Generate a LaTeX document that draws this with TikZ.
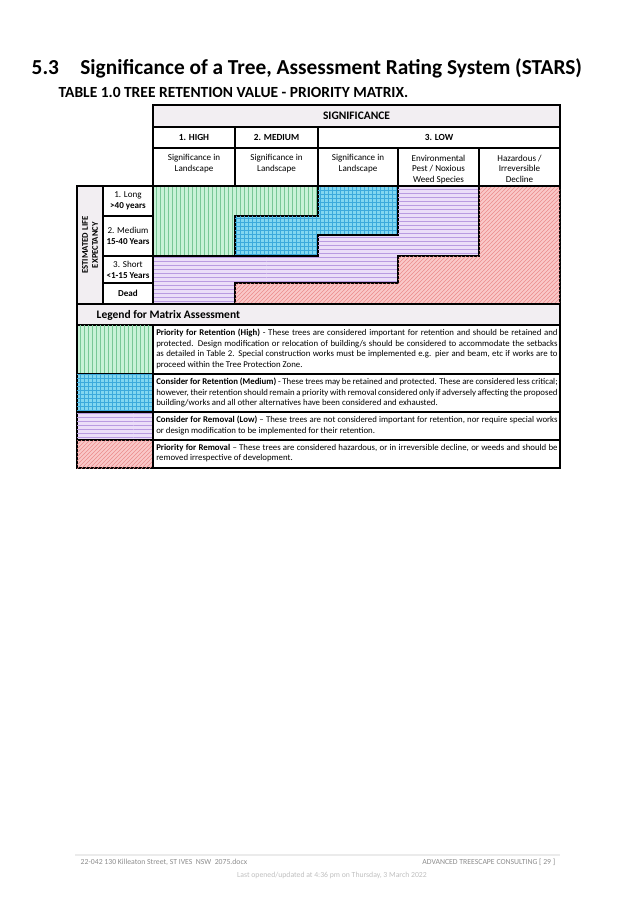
\documentclass[tikz,border=0pt]{standalone}
\usepackage{fontspec}
\setmainfont{Carlito}
\usetikzlibrary{patterns}
\definecolor{greenl}{RGB}{200,242,215}
\definecolor{greenp}{RGB}{120,200,150}
\definecolor{bluel}{RGB}{130,215,240}
\definecolor{bluep}{RGB}{60,170,220}
\definecolor{purl}{RGB}{235,222,248}
\definecolor{purp}{RGB}{185,155,225}
\definecolor{pinkl}{RGB}{250,200,200}
\definecolor{pinkp}{RGB}{235,140,140}
\definecolor{headgray}{RGB}{242,238,242}
\tikzset{
  hdr/.style={font=\fontsize{7}{8}\selectfont\bfseries},
  cell/.style={font=\fontsize{6.8}{8.2}\selectfont, align=center},
  legtxt/.style={font=\fontsize{6.6}{7.9}\selectfont, text width=301pt, align=justify, inner sep=0pt, anchor=north west},
  highfill/.style={fill=greenl, postaction={pattern=vertical lines, pattern color=greenp}},
  medfill/.style={fill=bluel, postaction={pattern=grid, pattern color=bluep}},
  lowfill/.style={fill=purl, postaction={pattern=horizontal lines, pattern color=purp}},
  remfill/.style={fill=pinkl, postaction={pattern=north east lines, pattern color=pinkp}},
}
\begin{document}
\begin{tikzpicture}[x=0.75pt,y=-0.75pt]
\useasboundingbox (0,0) rectangle (637,902);
%%% Title
\node[anchor=west, font=\fontsize{16}{18}\selectfont\bfseries] (title) at (27,68) {5.3\quad Significance of a Tree, Assessment Rating System (STARS)};
\node[anchor=west, font=\fontsize{11.6}{13}\selectfont\bfseries] (subtitle) at (54,92) {TABLE 1.0 TREE RETENTION VALUE - PRIORITY MATRIX.};
%%% Matrix colour regions
\def\ca{153}\def\cb{235}\def\cc{318}\def\cd{398}\def\ce{479}\def\cf{560}
\def\ra{186}\def\rb{216}\def\rm{235}\def\rc{256}\def\rd{283}\def\re{304}
\draw[thick, highfill] (\ca,\ra) -- (\cc,\ra) -- (\cc,\rb) -- (\cb,\rb) -- (\cb,\rc) -- (\ca,\rc) -- cycle;
\draw[thick, medfill] (\cc,\ra) -- (\cd,\ra) -- (\cd,\rm) -- (\cc,\rm) -- (\cc,\rc) -- (\cb,\rc) -- (\cb,\rb) -- (\cc,\rb) -- cycle;
\draw[thick, lowfill] (\cd,\ra) -- (\ce,\ra) -- (\ce,\rc) -- (\cd,\rc) -- (\cd,\rd) -- (\cb,\rd) -- (\cb,\re) -- (\ca,\re) -- (\ca,\rc) -- (\cc,\rc) -- (\cc,\rm) -- (\cd,\rm) -- cycle;
\draw[thick, remfill] (\ce,\ra) -- (\cf,\ra) -- (\cf,\re) -- (\cb,\re) -- (\cb,\rd) -- (\cd,\rd) -- (\cd,\rc) -- (\ce,\rc) -- cycle;
%%% Header
\draw[thick, fill=headgray] (\ca,105) rectangle (\cf,127);
\node[hdr, font=\fontsize{8.6}{9}\selectfont\bfseries] (sig) at (356.5,116) {SIGNIFICANCE};
\draw[thick] (\ca,127) rectangle (\cb,148) (\cb,127) rectangle (\cc,148) (\cc,127) rectangle (\cf,148);
\node[hdr] (high) at (194,137.5) {1. HIGH};
\node[hdr] (medium) at (276.5,137.5) {2. MEDIUM};
\node[hdr] (low) at (439,137.5) {3. LOW};
\foreach \xl/\xr in {153/235,235/318,318/398,398/479,479/560}
  \draw[thick] (\xl,148) rectangle (\xr,\ra);
\node[cell, anchor=north] (d1) at (194,150) {Significance in\\Landscape};
\node[cell, anchor=north] (d2) at (276.5,150) {Significance in\\Landscape};
\node[cell, anchor=north] (d3) at (358,150) {Significance in\\Landscape};
\node[cell, anchor=north] (d4) at (438.5,150) {Environmental\\Pest / Noxious\\Weed Species};
\node[cell, anchor=north] (d5) at (519.5,150) {Hazardous /\\Irreversible\\Decline};
%%% Life expectancy
\draw[thick, fill=headgray] (77,\ra) rectangle (103,\re);
\node[hdr, rotate=90, align=center, font=\fontsize{6.5}{7.5}\selectfont\bfseries] (ele) at (90,245) {ESTIMATED LIFE\\EXPECTANCY};
\draw[thick] (103,\ra) rectangle (\ca,\rb) (103,\rb) rectangle (\ca,\rc) (103,\rc) rectangle (\ca,\rd) (103,\rd) rectangle (\ca,\re);
\node[cell] (long) at (128,201) {1. Long\\\textbf{>40 years}};
\node[cell] (med) at (128,236) {2. Medium\\\textbf{15-40 Years}};
\node[cell] (short) at (128,269.5) {3. Short\\\textbf{<1-15 Years}};
\node[cell] (dead) at (128,293.5) {\textbf{Dead}};
%%% Legend
\draw[thick, fill=headgray] (77,\re) rectangle (\cf,325);
\node[anchor=west, font=\fontsize{8.6}{9}\selectfont\bfseries] (legend) at (92,315) {Legend for Matrix Assessment};
\draw[thick, highfill] (77,325) rectangle (\ca,374);
\draw[thick, medfill] (77,374) rectangle (\ca,412);
\draw[thick, lowfill] (77,412) rectangle (\ca,440);
\draw[thick, remfill] (77,440) rectangle (\ca,468);
\draw[thick] (\ca,325) rectangle (\cf,374) (\ca,374) rectangle (\cf,412) (\ca,412) rectangle (\cf,440) (\ca,440) rectangle (\cf,468);
\node[legtxt] (lg1) at (156,329) {\hyphenpenalty=10000\textbf{Priority for Retention (High)} - These trees are considered important for retention and should be retained and protected. Design modification or relocation of building/s should be considered to accommodate the setbacks as detailed in Table 2. Special construction works must be implemented e.g. pier and beam, etc if works are to proceed within the Tree Protection Zone.};
\node[legtxt] (lg2) at (156,378) {\hyphenpenalty=10000\textbf{Consider for Retention (Medium)} - These trees may be retained and protected. These are considered less critical; however, their retention should remain a priority with removal considered only if adversely affecting the proposed building/works and all other alternatives have been considered and exhausted.};
\node[legtxt] (lg3) at (156,416) {\hyphenpenalty=10000\textbf{Consider for Removal (Low)} -- These trees are not considered important for retention, nor require special works or design modification to be implemented for their retention.};
\node[legtxt] (lg4) at (156,444) {\hyphenpenalty=10000\textbf{Priority for Removal} -- These trees are considered hazardous, or in irreversible decline, or weeds and should be removed irrespective of development.};
%%% Footer
\draw[black!8, thick] (75,855) -- (560,855);
\node[anchor=west, text=black!45, font=\fontsize{5.8}{6}\selectfont] (foot1) at (76,862.5) {22-042 130 Killeaton Street, ST IVES\ \ NSW\ \ 2075.docx};
\node[anchor=east, text=black!45, font=\fontsize{5.8}{6}\selectfont] (foot2) at (560,862.5) {ADVANCED TREESCAPE CONSULTING [ 29 ]};
\node[text=black!25, font=\fontsize{5.8}{6}\selectfont] (foot3) at (332,875) {Last opened/updated at 4:36 pm on Thursday, 3 March 2022};
\end{tikzpicture}
\end{document}
